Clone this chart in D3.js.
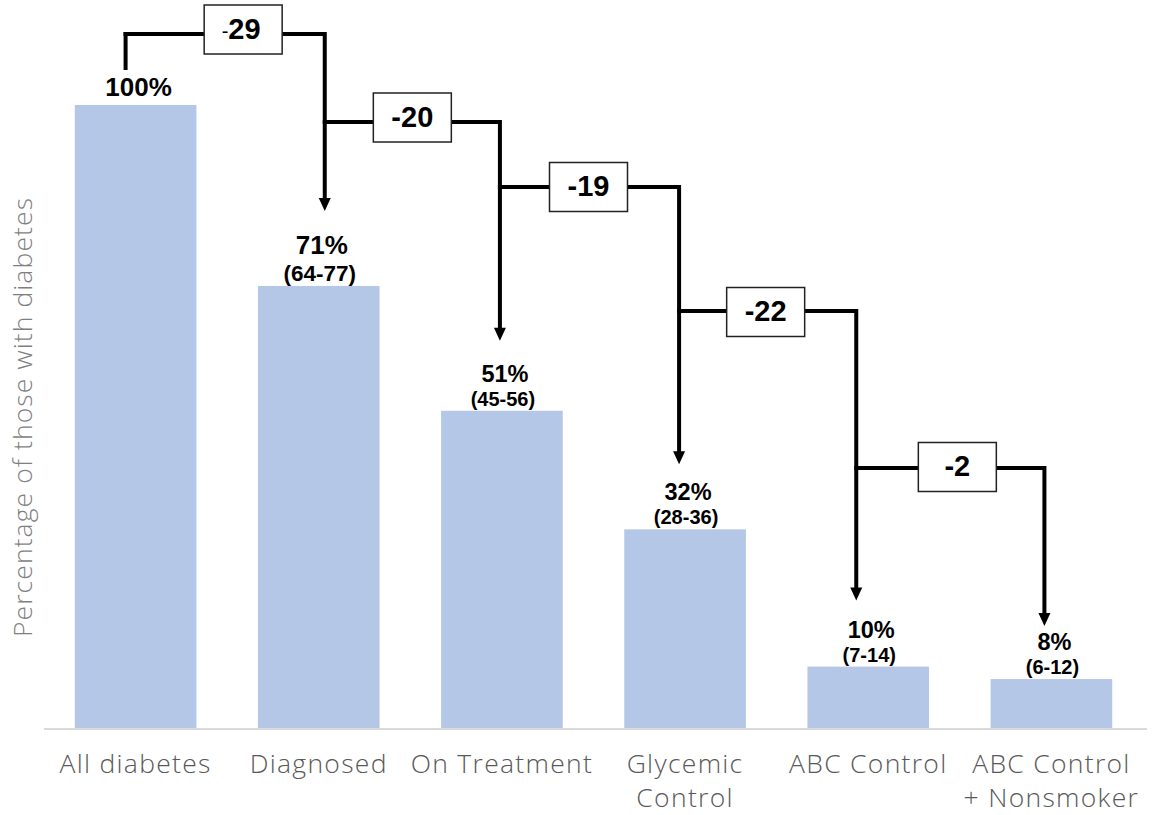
<!DOCTYPE html>
<html>
<head>
<meta charset="utf-8">
<script src="https://cdn.jsdelivr.net/npm/d3@7/dist/d3.min.js"></script>
<style>
  html, body { margin: 0; padding: 0; background: #fff; }
  svg { display: block; }
</style>
</head>
<body>
<svg id="chart" width="1154" height="815"></svg>
<script>
// Diabetes care cascade: share of people with diabetes at each stage
const categories = [
  ["All diabetes"],
  ["Diagnosed"],
  ["On Treatment"],
  ["Glycemic", "Control"],
  ["ABC Control"],
  ["ABC Control", "+ Nonsmoker"]
];
const values = [100, 71, 51, 32, 10, 8];
const ranges = [null, "(64-77)", "(45-56)", "(28-36)", "(7-14)", "(6-12)"];
const yTitle = "Percentage of those with diabetes";

// Layout of the stepped drop annotations
const connectorShift = [-10, 6, -2, -6, -12, -7];   // px, from bar centre
const levelY = [34, 122, 187, 311, 468];            // px, horizontal run of each step
const boxShift = [18, 0, -1, -2, 7];                // px, box offset from step midpoint
const boxRaise = [4.5, 4.5, 0, -1, 1];              // px, box centre above the run
const arrowGap = [75, 70, 65, 66, 53];              // px, arrow tip above next bar
const pctSize = [26, 26, 23.5, 23.5, 23.5, 23.5];
const rangeSize = [20, 22.5, 20, 20, 20, 20];

const svg = d3.select("#chart");
const base = 729;
const textFont = "'Open Sans', Lato, sans-serif";

const x = d3.scaleBand()
  .domain(d3.range(categories.length))
  .range([44, 1143])
  .paddingInner(0.336)
  .paddingOuter(0.168);

const y = d3.scaleLinear().domain([0, 100]).range([base, 105]);

const cx = i => x(i) + x.bandwidth() / 2;

// Bars
svg.append("g").selectAll("rect")
  .data(values)
  .join("rect")
  .attr("x", (d, i) => x(i))
  .attr("y", d => y(d))
  .attr("width", x.bandwidth())
  .attr("height", d => y(0) - y(d))
  .attr("fill", "#b4c7e7");

// Category axis
const xAxis = svg.append("g")
  .attr("transform", `translate(0,${base})`)
  .call(d3.axisBottom(x).tickSize(0).tickFormat(""));
xAxis.select(".domain")
  .attr("d", "M44,0H1147")
  .attr("stroke", "#d9d9d9")
  .attr("stroke-width", 2);
xAxis.selectAll(".tick").each(function(d) {
  const t = d3.select(this).append("text")
    .attr("fill", "#595959")
    .attr("font-family", textFont)
    .attr("font-weight", 300)
    .attr("font-size", 26.5)
    .attr("letter-spacing", 1.3)
    .attr("text-anchor", "middle");
  categories[d].forEach((line, k) => {
    t.append("tspan").attr("x", 0).attr("y", 44 + k * 34).text(line);
  });
});

// Y axis title
svg.append("text")
  .attr("transform", `translate(32,417) rotate(-90)`)
  .attr("text-anchor", "middle")
  .attr("fill", "#7f7f7f")
  .attr("font-family", textFont)
  .attr("font-weight", 300)
  .attr("font-size", 26.5)
  .attr("letter-spacing", 1.1)
  .text(yTitle);

// Value labels
const labels = svg.append("g")
  .attr("font-family", "'Liberation Sans', Arial, sans-serif")
  .attr("font-weight", "bold")
  .attr("fill", "#000")
  .attr("text-anchor", "middle");
values.forEach((v, i) => {
  const top = y(v);
  const hasRange = ranges[i] !== null;
  const rangeBase = top - 5;
  const pctBase = hasRange ? rangeBase - (i === 1 ? 27 : 24) : top - 9;
  labels.append("text")
    .attr("x", cx(i) + 3)
    .attr("y", pctBase)
    .attr("font-size", pctSize[i])
    .text(v + "%");
  if (hasRange) {
    labels.append("text")
      .attr("x", cx(i) + 1)
      .attr("y", rangeBase)
      .attr("font-size", rangeSize[i])
      .text(ranges[i]);
  }
});

// Stepped connectors with drop boxes
const drops = values.slice(1).map((v, i) => v - values[i]);
const nodeX = values.map((v, i) => cx(i) + connectorShift[i]);
const g = svg.append("g");
const stroke = "#000";
const lw = 4;

// opening stub above the first bar
g.append("path")
  .attr("d", `M${nodeX[0]},${levelY[0] - 2}V70`)
  .attr("stroke", stroke).attr("stroke-width", lw).attr("fill", "none");

drops.forEach((dv, i) => {
  const x0 = nodeX[i], x1 = nodeX[i + 1];
  const ly = levelY[i];
  const bw = 78, bh = 49;
  const bcx = (x0 + x1) / 2 + boxShift[i];
  const bcy = ly - boxRaise[i];
  const tip = y(values[i + 1]) - arrowGap[i];
  const ah = 13, aw = 12;

  g.append("path")
    .attr("d", `M${x0 - lw / 2},${ly}H${bcx - bw / 2}`)
    .attr("stroke", stroke).attr("stroke-width", lw).attr("fill", "none");
  g.append("path")
    .attr("d", `M${bcx + bw / 2},${ly}H${x1}V${tip - ah + 1}`)
    .attr("stroke", stroke).attr("stroke-width", lw).attr("fill", "none")
    .attr("stroke-linejoin", "miter");
  g.append("path")
    .attr("d", `M${x1 - aw / 2},${tip - ah}L${x1 + aw / 2},${tip - ah}L${x1},${tip}Z`)
    .attr("fill", stroke);

  g.append("rect")
    .attr("x", bcx - bw / 2).attr("y", bcy - bh / 2)
    .attr("width", bw).attr("height", bh)
    .attr("fill", "#fff").attr("stroke", "#222").attr("stroke-width", 1.5);

  const t = g.append("text")
    .attr("x", bcx)
    .attr("y", bcy + 9)
    .attr("text-anchor", "middle")
    .attr("font-family", "'Liberation Sans', Arial, sans-serif")
    .attr("font-size", 29)
    .attr("font-weight", "bold");
  const mag = String(Math.abs(dv));
  if (i === 0) {
    t.append("tspan").attr("font-weight", "normal").attr("font-size", 20)
      .attr("dx", -2).attr("dy", -1).text("-");
    t.append("tspan").attr("dy", 1).text(mag);
  } else {
    t.text("-" + mag);
  }
});
</script>
</body>
</html>
